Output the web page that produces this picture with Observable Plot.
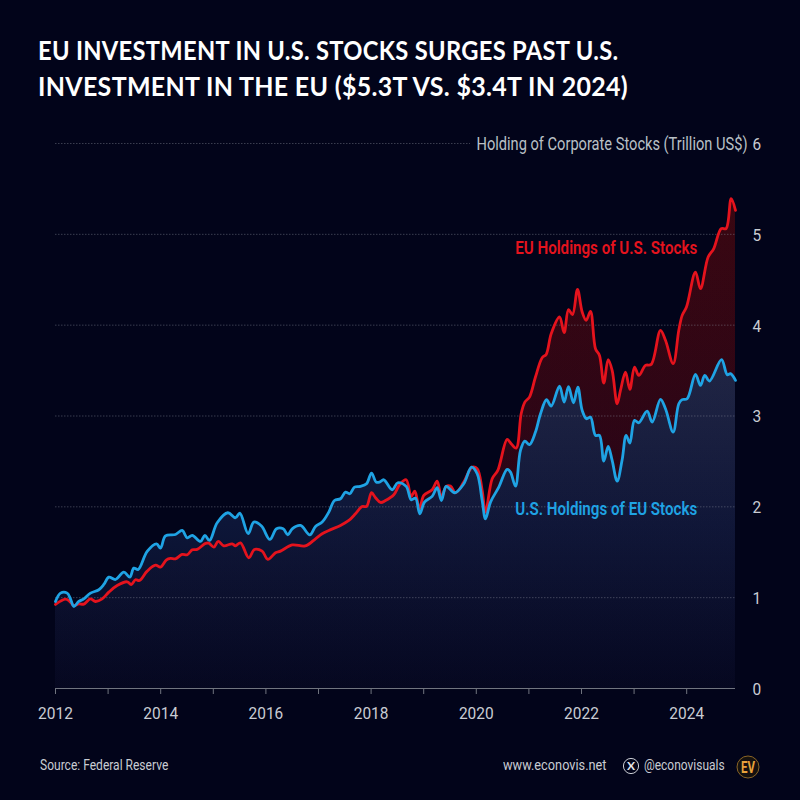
<!DOCTYPE html>
<html>
<head>
<meta charset="utf-8">
<script src="https://cdn.jsdelivr.net/npm/d3@7"></script>
<script src="https://cdn.jsdelivr.net/npm/@observablehq/plot@0.6"></script>
<style>
html,body{margin:0;padding:0;background:#02041a;}
#page{width:800px;height:800px;position:relative;overflow:hidden;background:#02041a;}
#title{height:125px;box-sizing:border-box;padding:32px 0 0 38px;color:#fff;font-family:Lato,sans-serif;font-weight:700;font-size:27.5px;line-height:36px;letter-spacing:.35px;white-space:nowrap;}
#title div{transform-origin:left center;}
#chart svg{display:block;}
#footer{position:absolute;left:0;top:753px;width:800px;height:26px;color:#c9ccd3;font-family:Roboto,sans-serif;font-size:14.5px;line-height:26px;}
#footer span,#footer svg{position:absolute;top:0;}
#footer span{transform-origin:left center;white-space:nowrap;}
</style>
</head>
<body>
<div id="page">
<div id="title"><div style="transform:scaleX(.862)">EU INVESTMENT IN U.S. STOCKS SURGES PAST U.S.</div><div style="transform:scaleX(.908)">INVESTMENT IN THE EU ($5.3T VS. $3.4T IN 2024)</div></div>
<div id="chart"></div>
<div id="footer">
<span style="left:40px;transform:scaleX(.83)">Source: Federal Reserve</span>
<span style="left:503px;transform:scaleX(.88)">www.econovis.net</span>
<svg style="left:622px;top:4px" width="18" height="18"><circle cx="9" cy="9" r="7.6" fill="none" stroke="#c9ccd3"/><text x="9" y="13" text-anchor="middle" fill="#e4e6ea" font-family="Lato" font-size="12" font-weight="700">X</text></svg>
<span style="left:644px;transform:scaleX(.825)">@econovisuals</span>
<svg style="left:736px;top:2px" width="24" height="24"><circle cx="12" cy="12" r="11" fill="#15110f" stroke="#8a6526"/><text x="12" y="17.5" text-anchor="middle" fill="#e8a33d" font-family="Roboto" font-size="16" font-weight="700" textLength="14" lengthAdjust="spacingAndGlyphs">EV</text></svg>
</div>
</div>
<script>
const euYears = [2012,2012.095,2012.19,2012.254,2012.348,2012.443,2012.539,2012.665,2012.76,2012.887,2013.014,2013.172,2013.362,2013.439,2013.52,2013.597,2013.743,2013.901,2013.996,2014.11,2014.186,2014.281,2014.408,2014.504,2014.6,2014.693,2014.852,2014.915,2015.01,2015.093,2015.2,2015.359,2015.422,2015.517,2015.675,2015.783,2015.929,2016.037,2016.183,2016.278,2016.5,2016.75,2016.943,2017.07,2017.196,2017.418,2017.577,2017.703,2017.83,2017.913,2018.008,2018.084,2018.179,2018.274,2018.432,2018.546,2018.667,2018.762,2018.831,2018.92,2019.002,2019.161,2019.256,2019.338,2019.428,2019.51,2019.605,2019.762,2019.921,2020.017,2020.112,2020.175,2020.302,2020.409,2020.587,2020.663,2020.758,2020.853,2020.923,2021.011,2021.125,2021.252,2021.329,2021.424,2021.582,2021.67,2021.753,2021.829,2021.924,2022.013,2022.089,2022.171,2022.266,2022.342,2022.424,2022.507,2022.583,2022.678,2022.741,2022.837,2022.919,2023.008,2023.09,2023.217,2023.325,2023.502,2023.597,2023.743,2023.85,2023.914,2023.996,2024.167,2024.262,2024.408,2024.515,2024.656,2024.75,2024.846,2024.928];
const euValues = [0.925,0.962,0.984,0.969,0.914,0.932,0.929,0.987,0.958,0.987,1.061,1.134,1.175,1.145,1.197,1.189,1.292,1.358,1.336,1.417,1.432,1.428,1.476,1.472,1.527,1.531,1.597,1.6,1.556,1.619,1.571,1.593,1.571,1.604,1.439,1.531,1.512,1.421,1.494,1.512,1.58,1.57,1.648,1.703,1.74,1.795,1.85,1.924,2.004,2.004,2.155,2.1,2.048,2.07,2.133,2.247,2.298,2.115,2.173,1.979,2.126,2.188,2.283,2.107,2.225,2.228,2.155,2.272,2.437,2.42,2.181,1.942,2.309,2.401,2.742,2.695,2.646,3.025,3.153,3.208,3.429,3.642,3.678,3.906,4.09,3.918,4.171,4.115,4.394,4.145,4.053,4.152,3.741,3.667,3.362,3.62,3.502,3.135,3.282,3.484,3.293,3.539,3.447,3.557,3.568,3.943,3.833,3.576,3.943,4.108,4.2,4.585,4.402,4.75,4.843,5.063,5.063,5.393,5.264];
const usYears = [2012,2012.095,2012.222,2012.285,2012.348,2012.443,2012.539,2012.665,2012.824,2012.919,2013.014,2013.141,2013.299,2013.413,2013.489,2013.572,2013.743,2013.92,2013.996,2014.091,2014.281,2014.408,2014.504,2014.6,2014.757,2014.84,2014.928,2015.074,2015.276,2015.422,2015.505,2015.663,2015.77,2015.916,2016.075,2016.202,2016.328,2016.417,2016.5,2016.658,2016.835,2016.943,2017.07,2017.196,2017.304,2017.418,2017.513,2017.595,2017.684,2017.798,2017.913,2018.008,2018.097,2018.16,2018.242,2018.401,2018.508,2018.667,2018.762,2018.844,2018.926,2019.015,2019.161,2019.256,2019.338,2019.428,2019.591,2019.762,2019.909,2020.017,2020.112,2020.175,2020.27,2020.428,2020.587,2020.65,2020.745,2020.84,2020.923,2021.011,2021.125,2021.221,2021.335,2021.424,2021.582,2021.67,2021.753,2021.848,2021.93,2022.013,2022.095,2022.171,2022.266,2022.342,2022.424,2022.507,2022.583,2022.678,2022.773,2022.849,2022.919,2023.008,2023.09,2023.248,2023.344,2023.502,2023.597,2023.743,2023.85,2023.914,2024.009,2024.167,2024.262,2024.344,2024.433,2024.662,2024.77,2024.833,2024.928];
const usValues = [0.958,1.05,1.05,0.987,0.903,0.958,0.987,1.05,1.087,1.145,1.226,1.2,1.281,1.226,1.325,1.31,1.509,1.593,1.545,1.681,1.696,1.74,1.659,1.685,1.619,1.685,1.63,1.825,1.935,1.88,1.93,1.704,1.832,1.788,1.641,1.758,1.758,1.692,1.758,1.795,1.692,1.784,1.832,1.942,2.07,2.089,2.162,2.144,2.217,2.225,2.254,2.371,2.272,2.272,2.298,2.188,2.265,2.225,2.078,2.096,1.924,2.052,2.115,2.21,2.07,2.225,2.155,2.254,2.437,2.364,2.07,1.868,2.052,2.217,2.412,2.382,2.228,2.621,2.724,2.684,2.823,3.025,3.179,3.109,3.33,3.153,3.322,3.146,3.318,3.062,2.97,2.988,2.786,2.786,2.503,2.665,2.511,2.283,2.519,2.786,2.702,2.952,2.926,3.054,2.933,3.183,3.08,2.823,3.135,3.18,3.19,3.458,3.337,3.447,3.385,3.62,3.455,3.466,3.392];
const yTicks = [0,1,2,3,4,5,6];
const gridValues = [1,2,3,4,5];
const xTicks = [2012,2013,2014,2015,2016,2017,2018,2019,2020,2021,2022,2023,2024];

const eu = euYears.map((year, i) => ({year, value: euValues[i]}));
const us = usYears.map((year, i) => ({year, value: usValues[i]}));

const defs = () => {
  const d = d3.create("svg:defs");
  const grad = (id, stops) => {
    const g = d.append("linearGradient").attr("id", id).attr("x1", 0).attr("x2", 0).attr("y1", 0).attr("y2", 1);
    stops.forEach(([o, c, a]) => g.append("stop").attr("offset", o).attr("stop-color", c).attr("stop-opacity", a));
  };
  grad("redFill", [[0, "#340510", 1], [0.6, "#270416", 1], [1, "#120518", 1]]);
  grad("blueFill", [[0, "#1c2545", 1], [0.5, "#0d1638", 1], [1, "#040720", 1]]);
  grad("tint", [[0, "#d04040", 0.035], [1, "#d04040", 0.008]]);
  return d.node();
};

const chart = Plot.plot({
  width: 800,
  height: 605,
  marginLeft: 55,
  marginRight: 65,
  marginTop: 18,
  marginBottom: 42,
  style: {background: "transparent", fontFamily: 'Roboto, sans-serif'},
  x: {domain: [2012, 2024.928], label: null},
  y: {domain: [0, 6], label: null},
  marks: [
    defs,
    Plot.areaY(eu, {x: "year", y: "value", fill: "url(#redFill)", curve: "catmull-rom"}),
    Plot.areaY(us, {x: "year", y: "value", fill: "url(#blueFill)", curve: "catmull-rom"}),
    Plot.areaY(eu, {x: "year", y: "value", fill: "url(#tint)", curve: "catmull-rom"}),
    Plot.ruleY(gridValues, {stroke: "#8a8d9a", strokeOpacity: 0.6, strokeWidth: 0.7, strokeDasharray: "1.5,1.5"}),
    Plot.ruleY([6], {x1: 2012, x2: 2019.89, stroke: "#8a8d9a", strokeOpacity: 0.6, strokeWidth: 0.7, strokeDasharray: "1.5,1.5"}),
    Plot.ruleY([0], {stroke: "#70747f", strokeWidth: 1}),
    Plot.line(eu, {x: "year", y: "value", stroke: "#e5131d", strokeWidth: 2.8, curve: "catmull-rom"}),
    Plot.line(us, {x: "year", y: "value", stroke: "#1fa3e4", strokeWidth: 2.8, curve: "catmull-rom"}),
    Plot.axisX({ticks: xTicks, tickSize: 6, tickPadding: 12, stroke: "#70747f", fill: "#c9ccd3", fontSize: 17, label: null, tickFormat: d => d % 2 === 0 ? String(d) : ""}),
    Plot.axisY({anchor: "right", ticks: yTicks, tickSize: 0, tickPadding: 17, dy: 1, fill: "#c9ccd3", fontSize: 17, label: null, tickFormat: d => String(d)}),
    Plot.text(["Holding of Corporate Stocks (Trillion US$)"], {x: 2024.928, y: 6, dx: 12, dy: 1, text: d => d, textAnchor: "end", fill: "#b9c0c6", fontSize: 17.5}),
    Plot.text(["EU Holdings of U.S. Stocks"], {x: 2024.2, y: 4.85, text: d => d, textAnchor: "end", fill: "#e5131d", fontSize: 18, fontWeight: 600}),
    Plot.text(["U.S. Holdings of EU Stocks"], {x: 2024.2, y: 1.97, text: d => d, textAnchor: "end", fill: "#1fa3e4", fontSize: 18, fontWeight: 600})
  ]
});
document.getElementById("chart").append(chart);

const textWidths = {
  "Holding of Corporate Stocks (Trillion US$)": 271,
  "EU Holdings of U.S. Stocks": 182,
  "U.S. Holdings of EU Stocks": 182
};
chart.querySelectorAll("text").forEach(t => {
  const s = t.textContent;
  if (!s) return;
  const w = textWidths[s] ?? t.getComputedTextLength() * 0.91;
  t.setAttribute("textLength", w);
  t.setAttribute("lengthAdjust", "spacingAndGlyphs");
});
</script>
</body>
</html>
